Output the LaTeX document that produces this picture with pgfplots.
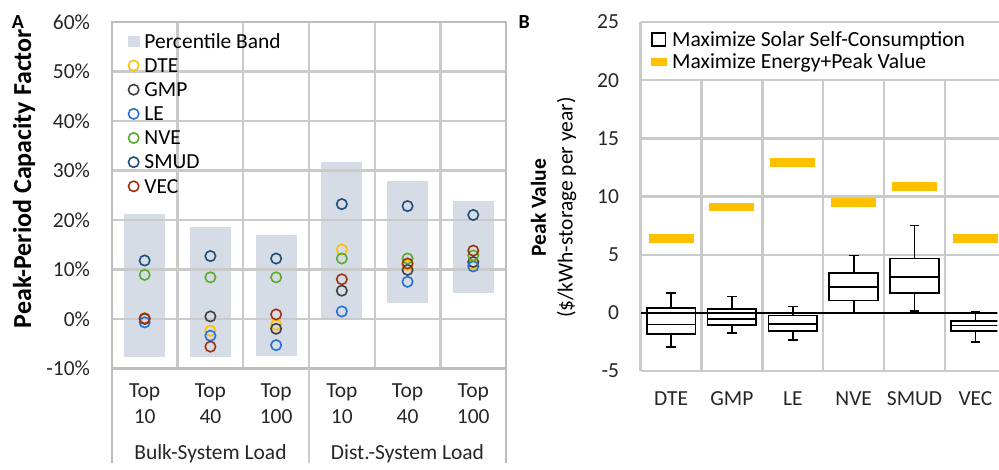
\documentclass[border=0pt]{standalone}
\usepackage{fontspec}
\setmainfont{Carlito}
\usepackage{pgfplots}
\usepackage{pgfplotstable}
\pgfplotsset{compat=1.18}
\usepgfplotslibrary{statistics}

\definecolor{band}{HTML}{D6DCE5}
\definecolor{cDTE}{HTML}{FFC000}
\definecolor{cGMP}{HTML}{404040}
\definecolor{cLE}{HTML}{2370D8}
\definecolor{cNVE}{HTML}{5AAA2E}
\definecolor{cSMUD}{HTML}{1F4E79}
\definecolor{cVEC}{HTML}{A0300E}
\definecolor{gridc}{HTML}{CACACA}
\definecolor{axc}{HTML}{BDBDBD}
\definecolor{orangeY}{HTML}{FFC000}

% percentile bands: bottom and top per category (nan separates bands)
\pgfplotstableread{
x y
0 -7.6
0 21.2
0 nan
1 -7.8
1 18.5
1 nan
2 -7.4
2 17.0
2 nan
3 0.0
3 31.8
3 nan
4 3.2
4 27.8
4 nan
5 5.3
5 23.9
}\bandtab

\pgfplotstableread{
x DTE GMP LE NVE SMUD VEC
0 0.1 0.0 -0.7 8.9 11.8 0.1
1 -2.4 0.5 -3.4 8.4 12.7 -5.6
2 -1.2 -2.0 -5.3 8.4 12.2 0.9
3 14.0 5.7 1.5 12.2 23.2 8.0
4 10.9 9.9 7.5 12.2 22.8 11.2
5 11.0 11.5 10.6 12.8 21.0 13.8
}\ptab

% horizontal grid lines of panel A
\pgfplotstableread{
x y
-0.5 -10
5.5 -10
5.5 nan
-0.5 0
5.5 0
5.5 nan
-0.5 10
5.5 10
5.5 nan
-0.5 20
5.5 20
5.5 nan
-0.5 30
5.5 30
5.5 nan
-0.5 40
5.5 40
5.5 nan
-0.5 50
5.5 50
5.5 nan
-0.5 60
5.5 60
}\gridA

% horizontal grid lines of panel B
\pgfplotstableread{
x y
-0.5 -5
5.5 -5
5.5 nan
-0.5 5
5.5 5
5.5 nan
-0.5 10
5.5 10
5.5 nan
-0.5 15
5.5 15
5.5 nan
-0.5 20
5.5 20
5.5 nan
-0.5 25
5.5 25
}\gridB

% category separators of panel B (they stop under the legend, at 20)
\pgfplotstableread{
x y
-0.5 -5
-0.5 25
-0.5 nan
0.5 -5
0.5 20
0.5 nan
1.5 -5
1.5 20
1.5 nan
2.5 -5
2.5 20
2.5 nan
3.5 -5
3.5 20
3.5 nan
4.5 -5
4.5 20
}\sepB

\pgfplotsset{
  utilpt/.style={only marks, mark=o, mark size=2.6pt, color=#1,
    mark options={line width=0.8pt, draw=#1, fill=none},
    legend image code/.code={\draw[##1] plot coordinates {(2.7pt,0pt)};}},
  gridline/.style={on layer=axis grid, gridc, line width=1.2pt, unbounded coords=jump, forget plot},
  common/.style={
    set layers,
    scale only axis, anchor=south west,
    xmin=-0.5,
    xtick={0,...,5},
    minor grid style={draw=gridc, line width=1.2pt},
    major tick length=0pt, minor tick length=0pt,
    /pgf/number format/assume math mode=true,
    tick label style={font=\fontsize{10.75}{13}\selectfont, text=black!85},
    legend cell align=left,
  },
}

\begin{document}
\begin{tikzpicture}

% ---------------- Panel A ----------------
\begin{axis}[common,
  at={(56pt,47.5pt)}, width=197.5pt, height=173.5pt,
  xmax=5.5,
  minor xtick={0.5,1.5,2.5,3.5,4.5}, xminorgrids=true,
  axis line style={axc, line width=1.2pt},
  ymin=-10, ymax=60, ytick={-10,0,...,60},
  yticklabel={\pgfmathprintnumber{\tick}\%},
  yticklabel style={xshift=-7.4pt},
  xticklabels={{Top\\10},{Top\\40},{Top\\100},{Top\\10},{Top\\40},{Top\\100}},
  xticklabel style={align=center, yshift=-4.2pt},
  legend style={at={(0.0397,0.98)}, anchor=north west, draw=none, fill=none,
    inner sep=0pt, row sep=0pt,
    font=\fontsize{10.75}{12}\selectfont,
    nodes={inner xsep=2.5pt, inner ysep=0pt, text height=9.45pt, text depth=2.65pt}},
]
\addplot[on layer=axis background, band, line width=20.5pt, line cap=butt, unbounded coords=jump, forget plot] table[x=x, y=y] {\bandtab};
\addplot[gridline] table[x=x, y=y] {\gridA};
\addlegendimage{legend image code/.code={\fill[band] (0pt,-2.7pt) rectangle (5.4pt,2.7pt);}}
\addlegendentry{Percentile Band}
\addplot[utilpt=cDTE] table[x=x, y=DTE] {\ptab};
\addlegendentry{DTE}
\addplot[utilpt=cGMP] table[x=x, y=GMP] {\ptab};
\addlegendentry{GMP}
\addplot[utilpt=cLE] table[x=x, y=LE] {\ptab};
\addlegendentry{LE}
\addplot[utilpt=cNVE] table[x=x, y=NVE] {\ptab};
\addlegendentry{NVE}
\addplot[utilpt=cSMUD] table[x=x, y=SMUD] {\ptab};
\addlegendentry{SMUD}
\addplot[utilpt=cVEC] table[x=x, y=VEC] {\ptab};
\addlegendentry{VEC}
\end{axis}

% group separators and labels under panel A
\draw[axc, line width=1.2pt] (56pt,0pt) -- (56pt,47.5pt);
\draw[gridc, line width=1.2pt] (154.75pt,0pt) -- (154.75pt,47.5pt);
\draw[axc, line width=1.2pt] (253.5pt,0pt) -- (253.5pt,47.5pt);
\node[anchor=base, font=\fontsize{10.75}{13}\selectfont, text=black!85] at (105.4pt,2pt) {Bulk-System Load};
\node[anchor=base, font=\fontsize{10.75}{13}\selectfont, text=black!85] at (204.1pt,2pt) {Dist.-System Load};

\node[rotate=90, font=\bfseries\fontsize{13}{15}\selectfont] at (12pt,142.5pt) {Peak-Period Capacity Factor};
\node[font=\bfseries\fontsize{10}{12}\selectfont] at (9pt,221pt) {A};

% ---------------- Panel B (right edge cut off as in the original) ----------------
\begin{axis}[common,
  at={(320.85pt,46.15pt)}, width=178.65pt, height=174.85pt,
  xmax=5.36,
  axis line style={draw=none},
  ymin=-5, ymax=25, ytick={-5,0,...,25},
  yticklabel style={xshift=-7.3pt},
  xticklabels={DTE,GMP,LE,NVE,SMUD,VEC},
  xticklabel style={yshift=-6.7pt},
  boxplot/draw direction=y,
  legend style={at={(0.028,0.983)}, anchor=north west, draw=none, fill=none,
    inner sep=0pt, row sep=0pt,
    font=\fontsize{10.8}{12}\selectfont,
    nodes={inner xsep=2.5pt, inner ysep=0pt, text height=8.95pt, text depth=2.25pt}},
]
\addplot[gridline] table[x=x, y=y] {\gridB};
\addplot[gridline] table[x=x, y=y] {\sepB};
\addplot[black, line width=1.2pt, forget plot] coordinates {(-0.5,0) (5.5,0)};
\addplot[boxplot prepared={draw position=0, lower whisker=-2.92, lower quartile=-1.83, median=-1.0, upper quartile=0.43, upper whisker=1.72, box extend=0.8, whisker extend=0.16}, black, line width=0.9pt, forget plot] coordinates {};
\addplot[boxplot prepared={draw position=1, lower whisker=-1.72, lower quartile=-1.03, median=-0.52, upper quartile=0.34, upper whisker=1.41, box extend=0.8, whisker extend=0.16}, black, line width=0.9pt, forget plot] coordinates {};
\addplot[boxplot prepared={draw position=2, lower whisker=-2.32, lower quartile=-1.57, median=-0.95, upper quartile=-0.22, upper whisker=0.55, box extend=0.8, whisker extend=0.16}, black, line width=0.9pt, forget plot] coordinates {};
\addplot[boxplot prepared={draw position=3, lower whisker=0.0, lower quartile=1.07, median=2.24, upper quartile=3.41, upper whisker=4.93, box extend=0.8, whisker extend=0.16}, black, line width=0.9pt, forget plot] coordinates {};
\addplot[boxplot prepared={draw position=4, lower whisker=0.15, lower quartile=1.69, median=3.07, upper quartile=4.68, upper whisker=7.51, box extend=0.8, whisker extend=0.16}, black, line width=0.9pt, forget plot] coordinates {};
\addplot[boxplot prepared={draw position=5, lower whisker=-2.52, lower quartile=-1.53, median=-1.09, upper quartile=-0.71, upper whisker=0.06, box extend=0.8, whisker extend=0.16}, black, line width=0.9pt, forget plot] coordinates {};
\addplot[only marks, mark=-, mark size=11.25pt, mark options={line width=4.5pt, draw=orangeY}, forget plot]
  coordinates {(0,6.4) (1,9.1) (2,12.95) (3,9.5) (4,10.9) (5,6.4)};
\addlegendimage{legend image code/.code={\draw[black, line width=0.75pt] (0pt,-3.3pt) rectangle (7pt,3.3pt);}}
\addlegendentry{Maximize Solar Self-Consumption}
\addlegendimage{legend image code/.code={\fill[orangeY] (0pt,-1.6pt) rectangle (7.5pt,1.6pt);}}
\addlegendentry{Maximize Energy+Peak Value}
\end{axis}

\node[rotate=90, align=center, font=\fontsize{10.75}{13.5}\selectfont] at (277.25pt,128pt) {\textbf{Peak Value}\\(\$/kWh-storage per year)};
\node[font=\bfseries\fontsize{10}{12}\selectfont] at (262.5pt,221pt) {B};

\path (0,0) rectangle (499.5pt,232pt);
\end{tikzpicture}
\end{document}
